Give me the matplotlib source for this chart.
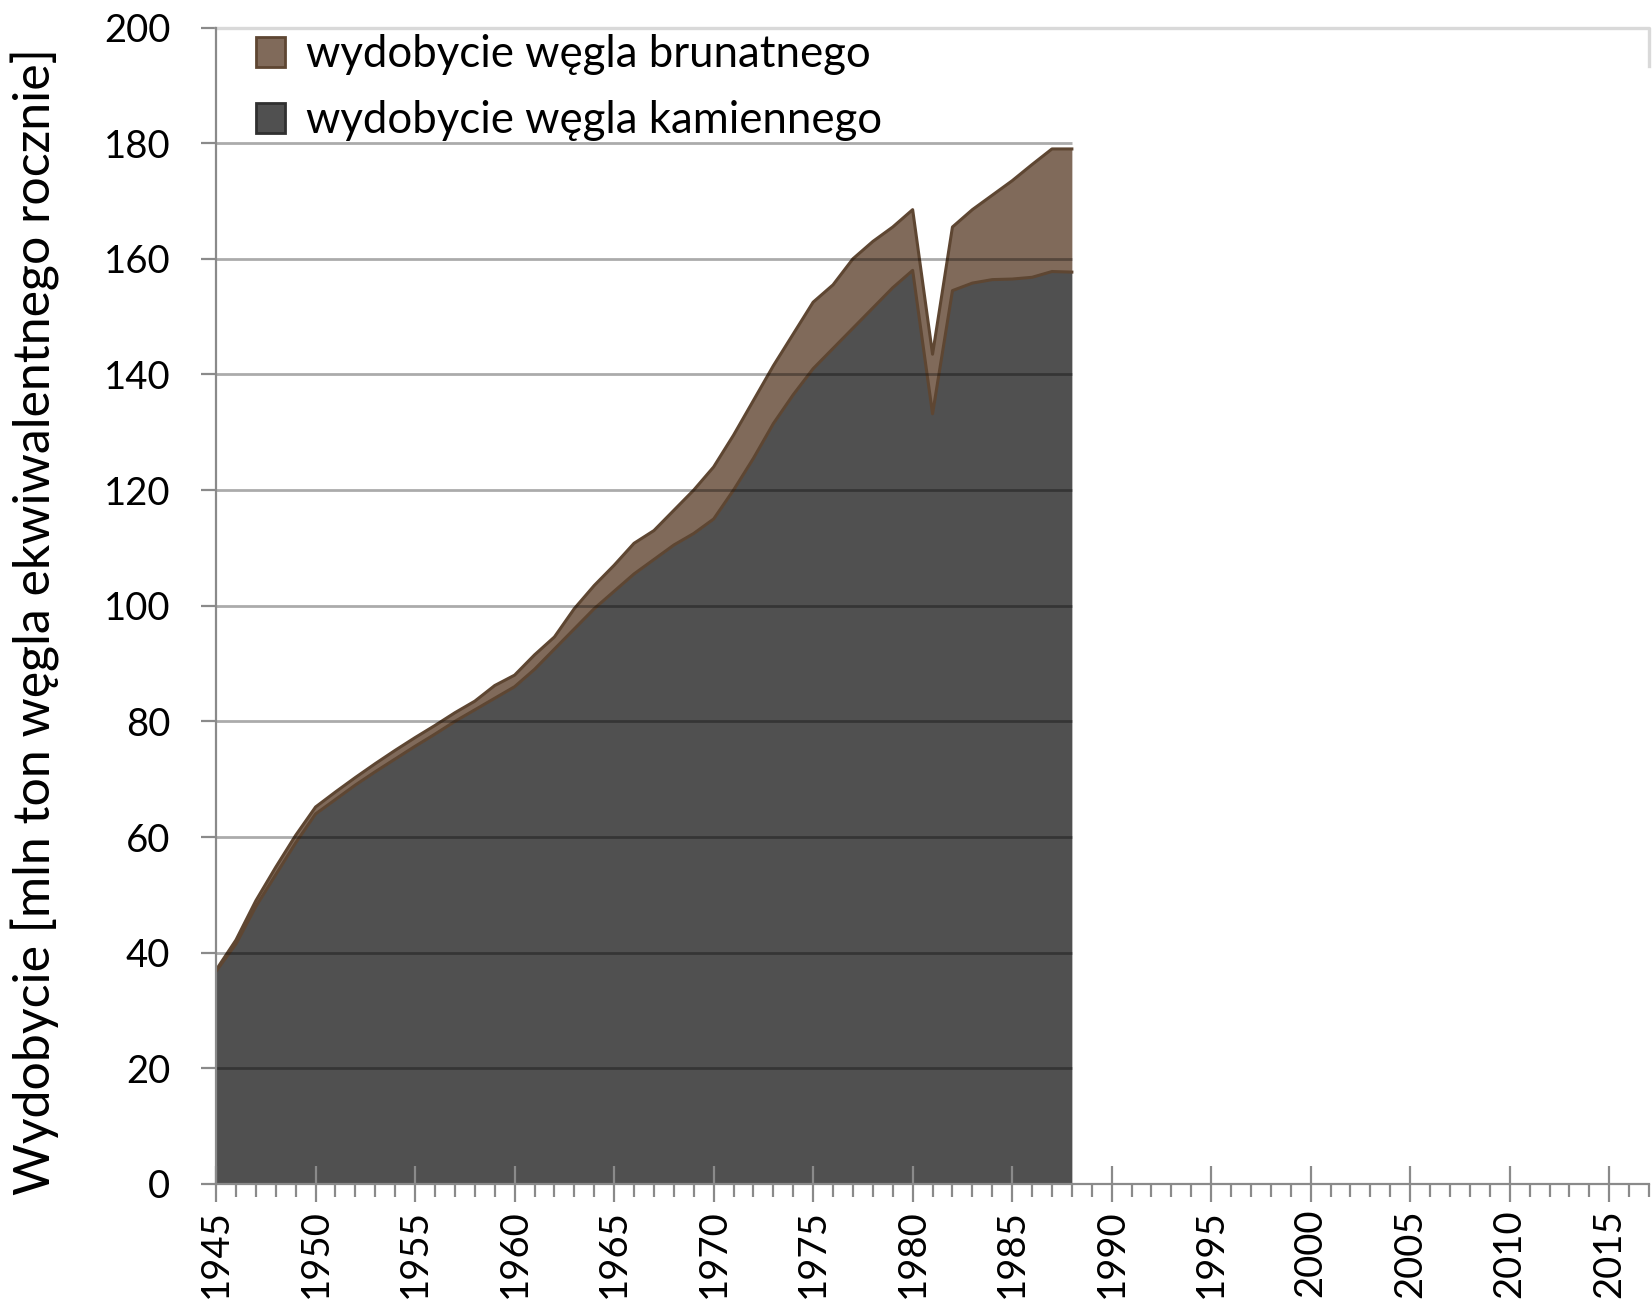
import numpy as np
import matplotlib
matplotlib.use("Agg")
import matplotlib.pyplot as plt
from matplotlib.patches import Patch
from matplotlib.ticker import MultipleLocator

plt.rcParams['font.family'] = ['Lato', 'DejaVu Sans']

# data (mln t of coal equivalent per year)
years = np.arange(1945, 1989)
hard_coal = [36.8, 41.5, 48.0, 53.5, 59.0, 64.0, 66.5, 69.0, 71.3, 73.5,
             75.7, 77.8, 80.0, 82.0, 84.0, 86.0, 89.0, 92.5, 96.0, 99.5,
             102.5, 105.5, 108.0, 110.5, 112.5, 115.0, 120.0, 125.5, 131.5, 136.5,
             141.0, 144.5, 148.0, 151.5, 155.0, 158.0, 133.2, 154.5, 155.8, 156.4,
             156.5, 156.8, 157.8, 157.7]
brown_coal = [0.2, 0.7, 1.0, 1.3, 1.3, 1.2, 1.3, 1.3, 1.4, 1.5,
              1.5, 1.5, 1.5, 1.5, 2.2, 2.0, 2.5, 2.1, 3.5, 4.0,
              4.5, 5.3, 5.0, 6.0, 7.5, 9.0, 9.5, 10.0, 10.0, 10.5,
              11.5, 11.0, 12.0, 11.5, 10.5, 10.5, 10.3, 11.0, 12.7, 14.6,
              17.0, 19.5, 21.2, 21.3]
labels = ["wydobycie węgla brunatnego", "wydobycie węgla kamiennego"]
ylabel = "Wydobycie [mln ton węgla ekwiwalentnego rocznie]"

hard = np.array(hard_coal)
total = hard + np.array(brown_coal)

DARK = "#505050"
BROWN = "#806a5a"
BROWN_EDGE = "#5e4632"
AXIS_GREY = "#8a8a8a"

fig = plt.figure(figsize=(16.52, 13.10), dpi=100)
ax = fig.add_axes([0.1308, 0.0962, 0.8674, 0.8828])

ax.fill_between(years, 0, hard, color=DARK, lw=0, zorder=1)
ax.fill_between(years, hard, total, color=BROWN, lw=0, zorder=1)
ax.plot(years, hard, color=BROWN_EDGE, lw=2.2, zorder=2)
ax.plot(years, total, color=BROWN_EDGE, lw=2.2, zorder=2)

# gridlines only over the data range, top line full width
ax.hlines(np.arange(20, 181, 20), 1945, years[-1], color="black", alpha=0.33, lw=2.0, zorder=3)
ax.plot([1945, 2017, 2017], [200, 200, 193.4], color="#d9d9d9", lw=2.4, zorder=3, clip_on=False)

ax.set_xlim(1945, 2017)
ax.set_ylim(0, 200)
ax.xaxis.set_major_locator(MultipleLocator(5))
ax.xaxis.set_minor_locator(MultipleLocator(1))
ax.yaxis.set_major_locator(MultipleLocator(20))

for s in ["top", "right"]:
    ax.spines[s].set_visible(False)
for s in ["left", "bottom"]:
    ax.spines[s].set_color(AXIS_GREY)
    ax.spines[s].set_linewidth(1.6)
    ax.spines[s].set_zorder(4)

ax.tick_params(axis="x", which="major", direction="inout", length=26, width=1.6,
               color=AXIS_GREY, labelsize=27.5, pad=5, labelrotation=90)
ax.tick_params(axis="x", which="minor", direction="out", length=9, width=1.6, color=AXIS_GREY)
ax.tick_params(axis="y", which="major", direction="out", length=11, width=1.6,
               color=AXIS_GREY, labelsize=27.5, pad=22)

ax.set_ylabel(ylabel, fontsize=36)
ax.yaxis.set_label_coords(-0.109, 0.486)

handles = [Patch(facecolor=BROWN, edgecolor=BROWN_EDGE, lw=2),
           Patch(facecolor=DARK, edgecolor="#303030", lw=2)]
ax.legend(handles, labels, loc="upper left", bbox_to_anchor=(0.0127, 1.013), frameon=False,
          fontsize=31.5, handlelength=0.65, handleheight=0.65, handletextpad=0.5,
          labelspacing=0.57, borderaxespad=0.1)

fig.savefig("out.png", dpi=100)
